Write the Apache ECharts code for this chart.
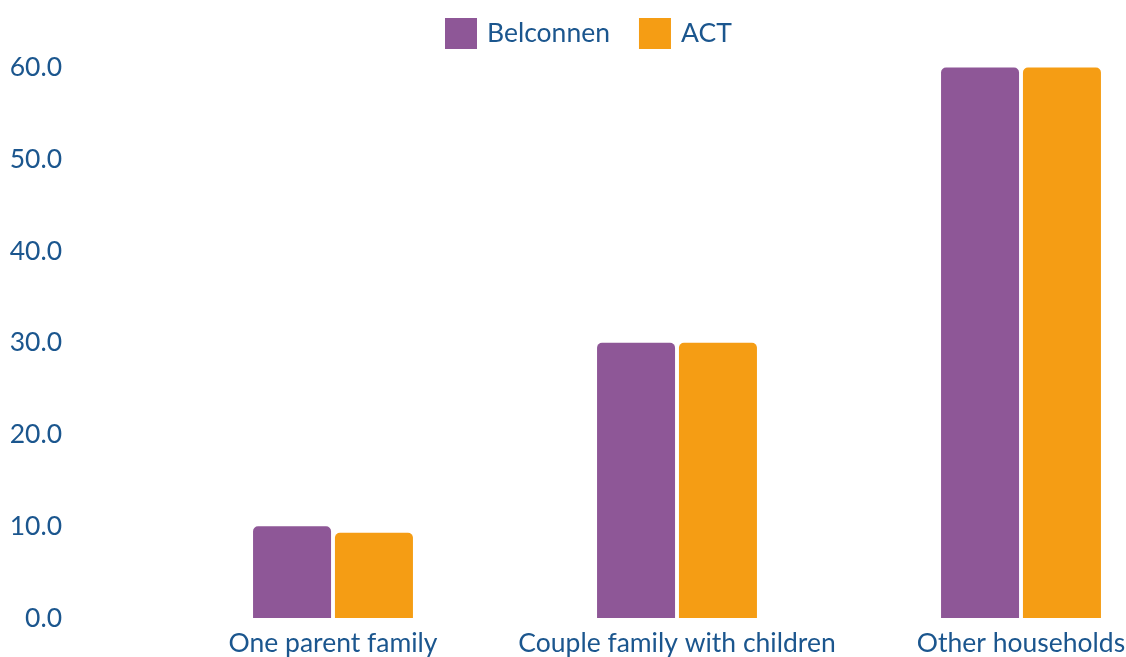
<!DOCTYPE html>
<html>
<head>
<meta charset="utf-8">
<script src="https://cdn.jsdelivr.net/npm/echarts@6/dist/echarts.min.js"></script>
<style>
  html, body { margin: 0; padding: 0; background: #ffffff; overflow: hidden; }
  #chart { width: 1193px; height: 657px; }
</style>
</head>
<body>
<div id="chart"></div>
<script>
// Household composition (%), Belconnen vs ACT
const categories = ['One parent family', 'Couple family with children', 'Other households'];
const belconnen = [10.0, 30.0, 60.0];
const act = [9.3, 30.0, 60.0];
const yTicks = [0, 10, 20, 30, 40, 50, 60];

const textColor = '#1b568e';
const font = 'Lato, "Open Sans", sans-serif';
const fontSize = 26.5;

const chart = echarts.init(document.getElementById('chart'));
chart.setOption({
  animation: false,
  textStyle: { fontFamily: font },
  legend: {
    top: 18,
    left: 445,
    padding: 0,
    itemWidth: 32,
    itemHeight: 31,
    itemGap: 29,
    icon: 'rect',
    textStyle: { color: textColor, fontSize: fontSize, fontFamily: font, padding: [0, 0, 0, 5] },
    data: ['Belconnen', 'ACT']
  },
  grid: { left: 161, top: 67.5, right: 0, bottom: 39 },
  xAxis: {
    type: 'category',
    data: categories,
    axisLine: { show: false },
    axisTick: { show: false },
    axisLabel: { color: textColor, fontSize: fontSize, fontFamily: font, margin: 12, interval: 0 }
  },
  yAxis: {
    type: 'value',
    min: yTicks[0],
    max: yTicks[yTicks.length - 1],
    interval: 10,
    splitLine: { show: false },
    axisLine: { show: false },
    axisTick: { show: false },
    axisLabel: {
      color: textColor, fontSize: fontSize, fontFamily: font, margin: 99,
      formatter: v => v.toFixed(1)
    }
  },
  series: [
    {
      name: 'Belconnen',
      type: 'bar',
      data: belconnen,
      barWidth: 78,
      barGap: '5%',
      itemStyle: { color: '#8e5797', borderRadius: [5, 5, 0, 0] }
    },
    {
      name: 'ACT',
      type: 'bar',
      data: act,
      barWidth: 78,
      itemStyle: { color: '#f59d14', borderRadius: [5, 5, 0, 0] }
    }
  ]
});
</script>
</body>
</html>
